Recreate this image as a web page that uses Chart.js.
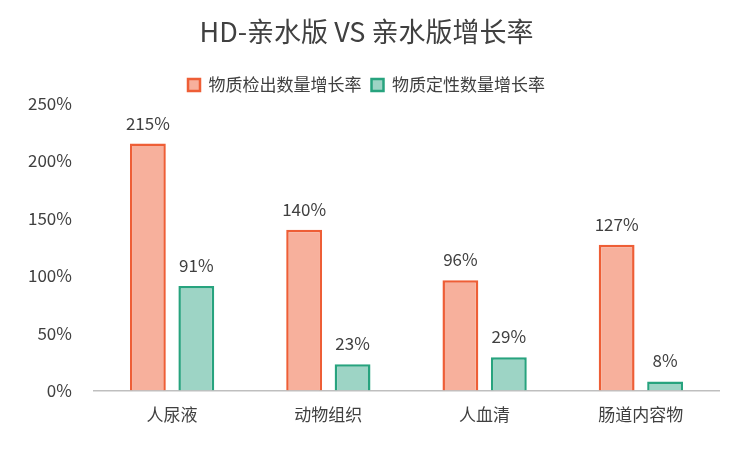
<!DOCTYPE html>
<html><head><meta charset="utf-8">
<script src="https://cdn.jsdelivr.net/npm/chart.js@4"></script>
<style>body{margin:0;background:#fff}#w{width:751px;height:451px}</style>
</head><body><div id="w"><canvas id="c"></canvas></div>
<script>
const categories=["人尿液","动物组织","人血清","肠道内容物"];
const detectRate=[215,140,96,127];
const qualRate=[91,23,29,8];
const yTicks=[0,50,100,150,200,250];
const F="'Noto Sans CJK SC','Noto Sans',sans-serif";
const labelPlugin={id:'lbl',afterDatasetsDraw(ch){const x=ch.ctx;x.save();x.font="17px "+F;x.fillStyle="#404040";x.textAlign="center";x.textBaseline="bottom";
ch.data.datasets.forEach((d,i)=>{ch.getDatasetMeta(i).data.forEach((b,j)=>{x.fillText(d.data[j]+"%",b.x,b.y-12);});});x.restore();}};
new Chart(document.getElementById('c'),{type:'bar',
data:{labels:categories,datasets:[
{label:"物质检出数量增长率",data:detectRate,backgroundColor:"#F7B09C",borderColor:"#EE5E36",borderWidth:2.5,borderSkipped:'bottom',categoryPercentage:0.62,barPercentage:0.74},
{label:"物质定性数量增长率",data:qualRate,backgroundColor:"#9DD4C5",borderColor:"#27A37E",borderWidth:2.5,borderSkipped:'bottom',categoryPercentage:0.62,barPercentage:0.74}]},
options:{responsive:true,maintainAspectRatio:false,animation:false,
layout:{padding:{left:14,right:32,top:16,bottom:20}},
plugins:{title:{display:true,text:"HD-亲水版 VS 亲水版增长率",font:{family:F,size:27,weight:'normal'},color:"#404040",padding:{top:0,bottom:18}},
legend:{labels:{font:{family:F,size:17},color:"#404040",boxWidth:12,boxHeight:12,padding:10},padding:{bottom:40}},tooltip:{enabled:false}},
scales:{y:{min:0,max:250,afterBuildTicks(a){a.ticks=yTicks.map(v=>({value:v}));},grid:{display:false},border:{display:false},
ticks:{font:{family:F,size:17},color:"#404040",padding:14,callback:v=>v+"%"}},
x:{grid:{display:false},border:{color:"#BFBFBF",width:1.5},ticks:{font:{family:F,size:17},color:"#404040",padding:6}}}},
plugins:[labelPlugin]});
</script></body></html>
